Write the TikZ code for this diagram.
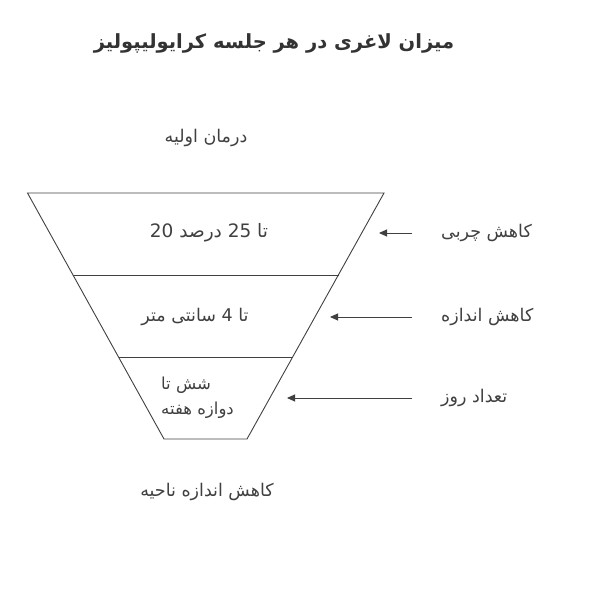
\documentclass[tikz,border=0pt]{standalone}
\usepackage{fontspec}
\usetikzlibrary{arrows.meta}
\TeXXeTstate=1
\newfontfamily\arabicfont[Script=Arabic]{DejaVu Sans}
\definecolor{ink}{HTML}{404040}
\definecolor{titleink}{HTML}{333333}
\begin{document}
\begin{tikzpicture}[x=1pt,y=-1pt,
  txt/.style={inner sep=0pt, text=ink, font=\arabicfont\fontsize{17.5}{22}\selectfont},
  lbl/.style={txt, anchor=west},
  edge/.style={draw=ink, line width=0.9pt},
  arr/.style={draw=ink, line width=0.9pt, -{Triangle[length=8pt,width=7pt]}}]
\useasboundingbox (0,0) rectangle (590,591);
% trapezoid corners
\coordinate (a1) at (27.5,193);
\coordinate (b1) at (384,193);
\coordinate (a2) at (73,275);
\coordinate (b2) at (338.5,275);
\coordinate (a3) at (118.5,357);
\coordinate (b3) at (293,357);
\coordinate (a4) at (164,439);
\coordinate (b4) at (247,439);
\draw[edge] (a1) -- (b1) -- (b4) -- (a4) -- cycle;
\draw[edge] (a2) -- (b2);
\draw[edge] (a3) -- (b3);
% title and captions
\node[txt, text=titleink, font=\arabicfont\bfseries\fontsize{19.5}{24}\selectfont] (title) at (274,43) {\beginR میزان لاغری در  هر جلسه کرایولیپولیز\endR};
\node[txt] (top) at (206,138) {\beginR درمان اولیه\endR};
\node[txt] (bottom) at (207,492) {\beginR کاهش اندازه ناحیه\endR};
% inside texts
\node[txt, font=\arabicfont\fontsize{18.5}{22}\selectfont] (s1) at (209,233) {\beginR تا \beginL 25\endL{} درصد \beginL 20\endL\endR};
\node[txt] (s2) at (195,317) {\beginR تا \beginL 4\endL{} سانتی متر\endR};
\node[txt, anchor=west, align=left, font=\arabicfont\fontsize{16.5}{25}\selectfont] (s3) at (161,398) {\beginR شش تا\endR\\\beginR دوازه هفته\endR};
% labels
\node[lbl] (l1) at (441,233) {\beginR کاهش چربی\endR};
\node[lbl] (l2) at (441,317) {\beginR کاهش اندازه\endR};
\node[lbl] (l3) at (441,398) {\beginR تعداد روز\endR};
% arrow heads
\coordinate (h1) at (379,233);
\coordinate (h2) at (330,317);
\coordinate (h3) at (287,398);
\draw[arr, shorten <=29pt] (l1.west) -- (h1);
\draw[arr, shorten <=29pt] (l2.west) -- (h2);
\draw[arr, shorten <=29pt] (l3.west) -- (h3);
\end{tikzpicture}
\end{document}
